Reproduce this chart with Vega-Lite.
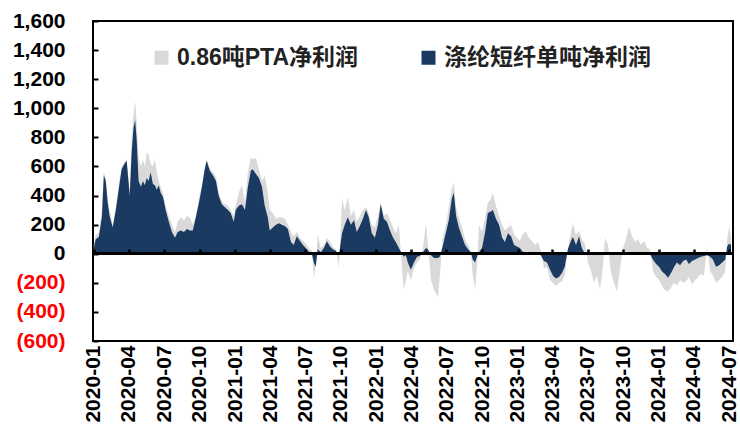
{
  "$schema": "https://vega.github.io/schema/vega-lite/v6.json",
  "width": 640,
  "height": 320,
  "autosize": "none",
  "padding": {"left": 93, "top": 21, "right": 7, "bottom": 95},
  "background": "white",
  "config": {
    "font": "Liberation Sans, Noto Sans CJK SC",
    "view": {"stroke": "black", "strokeWidth": 2},
    "axisY": {
      "title": null, "grid": false, "domain": false,
      "values": [-600, -400, -200, 0, 200, 400, 600, 800, 1000, 1200, 1400, 1600],
      "labelExpr": "datum.value < 0 ? '(' + format(-datum.value, ',') + ')' : format(datum.value, ',')",
      "labelColor": {"condition": {"test": "datum.value < 0", "value": "#ff0000"}, "value": "black"},
      "labelFontSize": 21, "labelFontWeight": "bold", "tickSize": -5, "tickColor": "black", "tickWidth": 2,
      "labelPadding": 33, "zindex": 1
    },
    "legend": {
      "symbolType": "square",
      "symbolSize": 196,
      "symbolStrokeWidth": 0,
      "labelFontSize": 23,
      "labelFontWeight": "bold",
      "labelColor": "#222222",
      "labelFont": "Liberation Sans, Noto Sans CJK SC",
      "columnPadding": 58,
      "labelOffset": 4,
      "labelLimit": 400
    }
  },
  "data": {"values": [
    {"d": "2020-01-01", "pta": 60, "psf": 40},
    {"d": "2020-01-06", "pta": 130, "psf": 100},
    {"d": "2020-01-14", "pta": 140, "psf": 115},
    {"d": "2020-01-22", "pta": 300, "psf": 250},
    {"d": "2020-01-27", "pta": 560, "psf": 540},
    {"d": "2020-02-01", "pta": 520, "psf": 500},
    {"d": "2020-02-06", "pta": 380, "psf": 350},
    {"d": "2020-02-11", "pta": 300, "psf": 260},
    {"d": "2020-02-19", "pta": 200, "psf": 180},
    {"d": "2020-02-27", "pta": 320, "psf": 300},
    {"d": "2020-03-06", "pta": 480, "psf": 450},
    {"d": "2020-03-13", "pta": 600, "psf": 580},
    {"d": "2020-03-21", "pta": 630, "psf": 620},
    {"d": "2020-03-26", "pta": 650, "psf": 640},
    {"d": "2020-04-03", "pta": 430, "psf": 400},
    {"d": "2020-04-08", "pta": 800, "psf": 700},
    {"d": "2020-04-13", "pta": 960, "psf": 870},
    {"d": "2020-04-17", "pta": 1050, "psf": 920},
    {"d": "2020-04-21", "pta": 900, "psf": 780},
    {"d": "2020-04-26", "pta": 650, "psf": 500},
    {"d": "2020-05-02", "pta": 600, "psf": 460},
    {"d": "2020-05-07", "pta": 650, "psf": 500},
    {"d": "2020-05-12", "pta": 600, "psf": 470},
    {"d": "2020-05-17", "pta": 700, "psf": 520},
    {"d": "2020-05-22", "pta": 680, "psf": 500},
    {"d": "2020-05-27", "pta": 620, "psf": 560},
    {"d": "2020-06-02", "pta": 600, "psf": 480},
    {"d": "2020-06-07", "pta": 650, "psf": 470},
    {"d": "2020-06-12", "pta": 560, "psf": 440},
    {"d": "2020-06-17", "pta": 500, "psf": 470},
    {"d": "2020-06-22", "pta": 460, "psf": 420},
    {"d": "2020-06-28", "pta": 420, "psf": 390},
    {"d": "2020-07-05", "pta": 330, "psf": 300},
    {"d": "2020-07-13", "pta": 260, "psf": 220},
    {"d": "2020-07-21", "pta": 200, "psf": 150},
    {"d": "2020-07-29", "pta": 150, "psf": 110},
    {"d": "2020-08-05", "pta": 220, "psf": 150},
    {"d": "2020-08-13", "pta": 250, "psf": 160},
    {"d": "2020-08-21", "pta": 230, "psf": 150},
    {"d": "2020-08-29", "pta": 260, "psf": 170},
    {"d": "2020-09-05", "pta": 250, "psf": 160},
    {"d": "2020-09-13", "pta": 200, "psf": 160},
    {"d": "2020-09-21", "pta": 260, "psf": 250},
    {"d": "2020-09-29", "pta": 380, "psf": 350},
    {"d": "2020-10-06", "pta": 460, "psf": 450},
    {"d": "2020-10-14", "pta": 600, "psf": 580},
    {"d": "2020-10-19", "pta": 645, "psf": 640},
    {"d": "2020-10-27", "pta": 590, "psf": 570},
    {"d": "2020-11-04", "pta": 560, "psf": 540},
    {"d": "2020-11-12", "pta": 530, "psf": 500},
    {"d": "2020-11-19", "pta": 420, "psf": 400},
    {"d": "2020-11-27", "pta": 360, "psf": 340},
    {"d": "2020-12-05", "pta": 340, "psf": 320},
    {"d": "2020-12-13", "pta": 330, "psf": 300},
    {"d": "2020-12-20", "pta": 300, "psf": 280},
    {"d": "2020-12-28", "pta": 260, "psf": 220},
    {"d": "2021-01-02", "pta": 330, "psf": 300},
    {"d": "2021-01-10", "pta": 420, "psf": 330},
    {"d": "2021-01-18", "pta": 470, "psf": 340},
    {"d": "2021-01-26", "pta": 350, "psf": 300},
    {"d": "2021-02-02", "pta": 550, "psf": 450},
    {"d": "2021-02-10", "pta": 660, "psf": 570},
    {"d": "2021-02-15", "pta": 650, "psf": 580},
    {"d": "2021-02-23", "pta": 660, "psf": 550},
    {"d": "2021-03-03", "pta": 580, "psf": 520},
    {"d": "2021-03-11", "pta": 500, "psf": 460},
    {"d": "2021-03-18", "pta": 540, "psf": 330},
    {"d": "2021-03-26", "pta": 420, "psf": 250},
    {"d": "2021-03-31", "pta": 300, "psf": 160},
    {"d": "2021-04-08", "pta": 280, "psf": 180},
    {"d": "2021-04-16", "pta": 240, "psf": 200},
    {"d": "2021-04-24", "pta": 250, "psf": 210},
    {"d": "2021-05-01", "pta": 250, "psf": 200},
    {"d": "2021-05-09", "pta": 240, "psf": 190},
    {"d": "2021-05-17", "pta": 200, "psf": 170},
    {"d": "2021-05-25", "pta": 150, "psf": 80},
    {"d": "2021-06-01", "pta": 120, "psf": 60},
    {"d": "2021-06-09", "pta": 150, "psf": 120},
    {"d": "2021-06-17", "pta": 110, "psf": 90},
    {"d": "2021-06-25", "pta": 90, "psf": 60},
    {"d": "2021-07-02", "pta": 70, "psf": 40},
    {"d": "2021-07-10", "pta": 40, "psf": 15},
    {"d": "2021-07-18", "pta": 20, "psf": 0},
    {"d": "2021-07-23", "pta": -170, "psf": -60},
    {"d": "2021-07-28", "pta": -80, "psf": -90},
    {"d": "2021-08-02", "pta": 130, "psf": 30},
    {"d": "2021-08-10", "pta": 40, "psf": 10},
    {"d": "2021-08-18", "pta": 60, "psf": 40},
    {"d": "2021-08-26", "pta": 110, "psf": 85},
    {"d": "2021-09-03", "pta": 80, "psf": 50},
    {"d": "2021-09-10", "pta": 50, "psf": 30},
    {"d": "2021-09-18", "pta": 30, "psf": 20},
    {"d": "2021-09-26", "pta": -95, "psf": -10},
    {"d": "2021-10-04", "pta": 380, "psf": 140},
    {"d": "2021-10-11", "pta": 300, "psf": 200},
    {"d": "2021-10-19", "pta": 390, "psf": 250},
    {"d": "2021-10-27", "pta": 260, "psf": 200},
    {"d": "2021-11-04", "pta": 300, "psf": 230},
    {"d": "2021-11-11", "pta": 220, "psf": 150},
    {"d": "2021-11-19", "pta": 260, "psf": 190},
    {"d": "2021-11-27", "pta": 300, "psf": 240},
    {"d": "2021-12-05", "pta": 320, "psf": 300},
    {"d": "2021-12-12", "pta": 280, "psf": 250},
    {"d": "2021-12-20", "pta": 200, "psf": 140},
    {"d": "2021-12-28", "pta": 180, "psf": 110},
    {"d": "2022-01-05", "pta": 260, "psf": 200},
    {"d": "2022-01-12", "pta": 350, "psf": 340},
    {"d": "2022-01-20", "pta": 260, "psf": 240},
    {"d": "2022-01-28", "pta": 280, "psf": 220},
    {"d": "2022-02-05", "pta": 230, "psf": 160},
    {"d": "2022-02-13", "pta": 180, "psf": 110},
    {"d": "2022-02-20", "pta": 140, "psf": 80},
    {"d": "2022-02-28", "pta": 200, "psf": 40},
    {"d": "2022-03-08", "pta": -100, "psf": 0},
    {"d": "2022-03-13", "pta": -250, "psf": -20},
    {"d": "2022-03-18", "pta": -180, "psf": -10},
    {"d": "2022-03-23", "pta": -120, "psf": -60},
    {"d": "2022-03-31", "pta": -180, "psf": -110},
    {"d": "2022-04-08", "pta": -100, "psf": -60},
    {"d": "2022-04-16", "pta": -60, "psf": -20},
    {"d": "2022-04-23", "pta": -40, "psf": -15},
    {"d": "2022-05-01", "pta": 30, "psf": 10},
    {"d": "2022-05-09", "pta": 210, "psf": 40},
    {"d": "2022-05-14", "pta": 60, "psf": 30},
    {"d": "2022-05-22", "pta": -180, "psf": -10},
    {"d": "2022-05-30", "pta": -250, "psf": -30},
    {"d": "2022-06-09", "pta": -300, "psf": -30},
    {"d": "2022-06-14", "pta": -150, "psf": -20},
    {"d": "2022-06-22", "pta": 120, "psf": 60},
    {"d": "2022-06-30", "pta": 200, "psf": 150},
    {"d": "2022-07-07", "pta": 320, "psf": 230},
    {"d": "2022-07-15", "pta": 450, "psf": 380},
    {"d": "2022-07-20", "pta": 490, "psf": 420},
    {"d": "2022-07-26", "pta": 320, "psf": 260},
    {"d": "2022-08-02", "pta": 250, "psf": 180},
    {"d": "2022-08-10", "pta": 180, "psf": 120},
    {"d": "2022-08-18", "pta": 100, "psf": 60},
    {"d": "2022-08-26", "pta": 60, "psf": 30},
    {"d": "2022-09-02", "pta": 20, "psf": 10},
    {"d": "2022-09-07", "pta": -150, "psf": -40},
    {"d": "2022-09-13", "pta": -240, "psf": -60},
    {"d": "2022-09-18", "pta": -100, "psf": -20},
    {"d": "2022-09-23", "pta": 200, "psf": 10},
    {"d": "2022-10-01", "pta": 150, "psf": 40},
    {"d": "2022-10-09", "pta": 250, "psf": 150},
    {"d": "2022-10-16", "pta": 350, "psf": 280},
    {"d": "2022-10-24", "pta": 380, "psf": 290},
    {"d": "2022-10-29", "pta": 420, "psf": 300},
    {"d": "2022-11-06", "pta": 330, "psf": 240},
    {"d": "2022-11-14", "pta": 260, "psf": 200},
    {"d": "2022-11-22", "pta": 200, "psf": 110},
    {"d": "2022-11-29", "pta": 160, "psf": 80},
    {"d": "2022-12-07", "pta": 180, "psf": 140},
    {"d": "2022-12-15", "pta": 200, "psf": 120},
    {"d": "2022-12-23", "pta": 130, "psf": 60},
    {"d": "2022-12-30", "pta": 110, "psf": 50},
    {"d": "2023-01-07", "pta": 90, "psf": 40},
    {"d": "2023-01-15", "pta": 140, "psf": 10},
    {"d": "2023-01-23", "pta": 150, "psf": 10},
    {"d": "2023-01-30", "pta": 110, "psf": 0},
    {"d": "2023-02-07", "pta": 90, "psf": 5},
    {"d": "2023-02-15", "pta": 60, "psf": 0},
    {"d": "2023-02-23", "pta": 80, "psf": 0},
    {"d": "2023-03-02", "pta": 20, "psf": -10},
    {"d": "2023-03-10", "pta": -100, "psf": -50},
    {"d": "2023-03-18", "pta": -90, "psf": -60},
    {"d": "2023-03-26", "pta": -180, "psf": -110},
    {"d": "2023-04-02", "pta": -200, "psf": -150},
    {"d": "2023-04-10", "pta": -220, "psf": -170},
    {"d": "2023-04-18", "pta": -200, "psf": -160},
    {"d": "2023-04-26", "pta": -190, "psf": -130},
    {"d": "2023-05-03", "pta": -150, "psf": -90},
    {"d": "2023-05-11", "pta": 40, "psf": 30},
    {"d": "2023-05-19", "pta": 150, "psf": 90},
    {"d": "2023-05-24", "pta": 210, "psf": 115},
    {"d": "2023-06-01", "pta": 130, "psf": 60},
    {"d": "2023-06-09", "pta": 160, "psf": 120},
    {"d": "2023-06-16", "pta": 100, "psf": 40},
    {"d": "2023-06-24", "pta": 70, "psf": 0},
    {"d": "2023-07-02", "pta": -60, "psf": 0},
    {"d": "2023-07-10", "pta": -120, "psf": 0},
    {"d": "2023-07-18", "pta": -200, "psf": 0},
    {"d": "2023-07-25", "pta": -150, "psf": 0},
    {"d": "2023-08-02", "pta": -250, "psf": 0},
    {"d": "2023-08-10", "pta": -80, "psf": 0},
    {"d": "2023-08-15", "pta": 110, "psf": 0},
    {"d": "2023-08-23", "pta": 60, "psf": 0},
    {"d": "2023-08-30", "pta": -120, "psf": 0},
    {"d": "2023-09-07", "pta": -200, "psf": 0},
    {"d": "2023-09-15", "pta": -260, "psf": 0},
    {"d": "2023-09-23", "pta": -100, "psf": 0},
    {"d": "2023-10-01", "pta": 40, "psf": 0},
    {"d": "2023-10-08", "pta": 100, "psf": 0},
    {"d": "2023-10-16", "pta": 185, "psf": 0},
    {"d": "2023-10-24", "pta": 120, "psf": 0},
    {"d": "2023-11-01", "pta": 80, "psf": 0},
    {"d": "2023-11-08", "pta": 100, "psf": 0},
    {"d": "2023-11-16", "pta": 60, "psf": 0},
    {"d": "2023-11-24", "pta": 90, "psf": 0},
    {"d": "2023-12-02", "pta": 40, "psf": 0},
    {"d": "2023-12-09", "pta": 30, "psf": 0},
    {"d": "2023-12-17", "pta": -120, "psf": -40},
    {"d": "2023-12-25", "pta": -160, "psf": -70},
    {"d": "2024-01-02", "pta": -180, "psf": -90},
    {"d": "2024-01-09", "pta": -220, "psf": -120},
    {"d": "2024-01-17", "pta": -250, "psf": -140},
    {"d": "2024-01-25", "pta": -260, "psf": -165},
    {"d": "2024-02-02", "pta": -230, "psf": -130},
    {"d": "2024-02-10", "pta": -200, "psf": -90},
    {"d": "2024-02-17", "pta": -220, "psf": -60},
    {"d": "2024-02-25", "pta": -180, "psf": -80},
    {"d": "2024-03-04", "pta": -200, "psf": -50},
    {"d": "2024-03-12", "pta": -190, "psf": -40},
    {"d": "2024-03-19", "pta": -160, "psf": -70},
    {"d": "2024-03-27", "pta": -210, "psf": -50},
    {"d": "2024-04-04", "pta": -180, "psf": -40},
    {"d": "2024-04-12", "pta": -160, "psf": -30},
    {"d": "2024-04-19", "pta": -140, "psf": -20},
    {"d": "2024-04-27", "pta": -150, "psf": -15},
    {"d": "2024-05-05", "pta": 50, "psf": -10},
    {"d": "2024-05-13", "pta": -120, "psf": -20},
    {"d": "2024-05-20", "pta": -150, "psf": -40},
    {"d": "2024-05-28", "pta": -200, "psf": -90},
    {"d": "2024-06-05", "pta": -180, "psf": -80},
    {"d": "2024-06-13", "pta": -160, "psf": -60},
    {"d": "2024-06-21", "pta": -120, "psf": -40},
    {"d": "2024-06-26", "pta": 100, "psf": 50},
    {"d": "2024-07-01", "pta": 185, "psf": 70},
    {"d": "2024-07-06", "pta": 120, "psf": 60}
  ]},
  "layer": [
    {
      "mark": {"type": "area", "opacity": 1},
      "encoding": {
        "x": {
          "field": "d", "type": "temporal",
          "scale": {"type": "utc", "domain": [{"year": 2019, "month": 12, "date": 30, "utc": true}, {"year": 2024, "month": 7, "date": 11, "utc": true}]},
          "axis": {
            "orient": "bottom", "title": null, "labelExpr": "utcFormat(datum.value, '%Y-%m')",
            "tickCount": {"interval": "month", "step": 3},
            "labelAngle": 270, "labelFontSize": 21, "labelFontWeight": "bold", "labelColor": "black",
            "labelPadding": 4, "ticks": false, "domain": false, "grid": false, "labelOverlap": false, "labelFlush": false
          }
        },
        "y": {
          "field": "pta", "type": "quantitative", "title": null,
          "scale": {"domain": [-600, 1600], "nice": false, "zero": false}
        },
        "color": {
          "datum": "0.86吨PTA净利润", "type": "nominal",
          "scale": {"domain": ["0.86吨PTA净利润", "涤纶短纤单吨净利润"], "range": ["#d9d9d9", "#1b3a61"]},
          "legend": {"title": null, "orient": "none", "direction": "horizontal", "legendX": 57, "legendY": 25}
        }
      }
    },
    {
      "mark": {"type": "area", "opacity": 1},
      "encoding": {
        "x": {
          "field": "d", "type": "temporal",
          "axis": {
            "orient": "top", "offset": -233, "title": null, "labels": false, "domain": false, "grid": false,
            "tickCount": {"interval": "month", "step": 3},
            "ticks": true, "tickSize": 5, "tickWidth": 2.5, "tickColor": "black", "zindex": 1
          }
        },
        "y": {"field": "psf", "type": "quantitative", "title": null},
        "color": {"datum": "涤纶短纤单吨净利润", "type": "nominal"}
      }
    },
    {
      "mark": {"type": "rule", "color": "black", "strokeWidth": 2},
      "encoding": {"y": {"datum": 0, "type": "quantitative", "title": null}}
    }
  ],
  "resolve": {"axis": {"x": "independent"}}
}
